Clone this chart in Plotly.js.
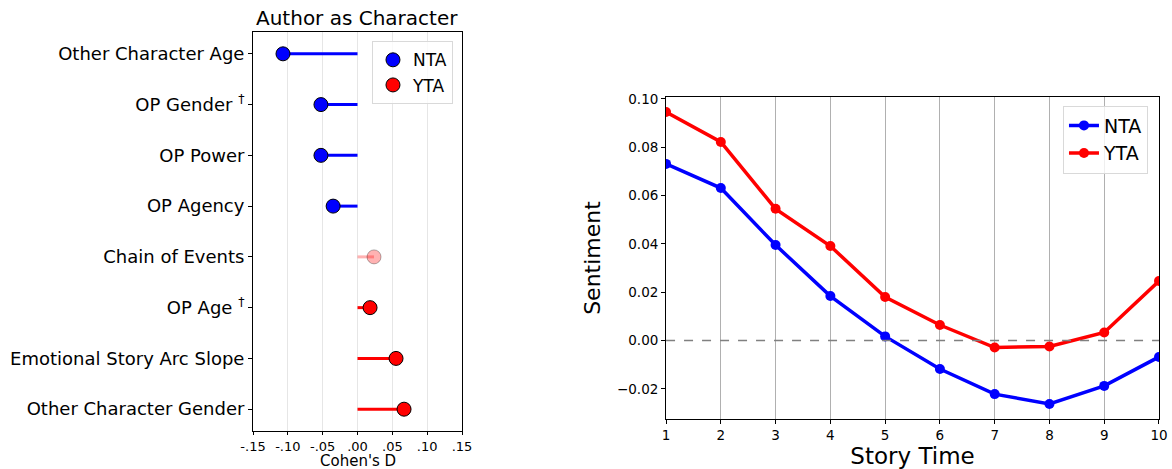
<!DOCTYPE html>
<html>
<head>
<meta charset="utf-8">
<script src="https://cdn.plot.ly/plotly-3.0.1.min.js"></script>
<style>html,body{margin:0;padding:0;background:#fff;}#chart{width:1172px;height:469px;}</style>
</head>
<body>
<div id="chart"></div>
<script>
// ---- Left panel data: Cohen's D, Author as Character ----
const features = ["Other Character Age", "OP Gender <sup>†</sup>", "OP Power", "OP Agency",
  "Chain of Events", "OP Age <sup>†</sup>", "Emotional Story Arc Slope", "Other Character Gender"];
const cohensD = [-0.107, -0.0525, -0.0525, -0.035, 0.0237, 0.018, 0.0553, 0.0668];
const significant = [true, true, true, true, false, true, true, true];
const dTickVals = [-0.15, -0.10, -0.05, 0.0, 0.05, 0.10, 0.15];
const dTickText = ["-.15", "-.10", "-.05", ".00", ".05", ".10", ".15"];

// ---- Right panel data: sentiment over story time ----
const storyTime = [1, 2, 3, 4, 5, 6, 7, 8, 9, 10];
const ntaSentiment = [0.0731, 0.0631, 0.0395, 0.0184, 0.0017, -0.0118, -0.0222, -0.0263, -0.0188, -0.0068];
const ytaSentiment = [0.0946, 0.0822, 0.0545, 0.0391, 0.0180, 0.0064, -0.0029, -0.0025, 0.0033, 0.0246];
const sentTickVals = [-0.02, 0.0, 0.02, 0.04, 0.06, 0.08, 0.10];

const BLUE = "#0000ff", RED = "#ff0000";
const PALE_BLUE = "rgba(0,0,255,0.3)", PALE_RED = "rgba(255,0,0,0.3)";

function colorFor(i) {
  const neg = cohensD[i] < 0;
  if (significant[i]) return neg ? BLUE : RED;
  return neg ? PALE_BLUE : PALE_RED;
}

const traces = [];
features.forEach((f, i) => {
  traces.push({
    x: [0, cohensD[i]], y: [f, f], xaxis: "x", yaxis: "y",
    mode: "lines", line: {color: colorFor(i), width: 3},
    showlegend: false, hoverinfo: "skip"
  });
});
const ntaIdx = features.map((f, i) => i).filter(i => cohensD[i] < 0);
const ytaIdx = features.map((f, i) => i).filter(i => cohensD[i] >= 0);
function markerTrace(idx, name) {
  const ordered = idx.slice().sort((a, b) => (significant[b] ? 1 : 0) - (significant[a] ? 1 : 0));
  return {
    x: ordered.map(i => cohensD[i]), y: ordered.map(i => features[i]),
    xaxis: "x", yaxis: "y", mode: "markers", name: name, legend: "legend",
    marker: {
      size: 14, color: ordered.map(i => colorFor(i)),
      line: {color: ordered.map(i => significant[i] ? "#000" : "rgba(0,0,0,0.3)"), width: 1}
    }
  };
}
traces.push(markerTrace(ntaIdx, "NTA"));
traces.push(markerTrace(ytaIdx, "YTA"));

traces.push({
  x: storyTime, y: ntaSentiment, xaxis: "x2", yaxis: "y2", name: "NTA", legend: "legend2",
  mode: "lines+markers", line: {color: BLUE, width: 3.5}, marker: {color: BLUE, size: 10}
});
traces.push({
  x: storyTime, y: ytaSentiment, xaxis: "x2", yaxis: "y2", name: "YTA", legend: "legend2",
  mode: "lines+markers", line: {color: RED, width: 3.5}, marker: {color: RED, size: 10}
});

const font = "DejaVu Sans";
const layout = {
  width: 1172, height: 469,
  margin: {l: 0, r: 0, t: 0, b: 0},
  paper_bgcolor: "#fff", plot_bgcolor: "#fff",
  font: {family: font, color: "#000"},
  showlegend: true,
  xaxis: {
    domain: [0.2159, 0.3942], range: [-0.15, 0.15],
    tickvals: dTickVals, ticktext: dTickText, tickfont: {size: 13},
    showgrid: true, gridcolor: "#e6e6e6", gridwidth: 1, zeroline: false,
    showline: true, linecolor: "#000", linewidth: 1, mirror: true,
    ticks: "outside", ticklen: 3, tickcolor: "#000"
  },
  yaxis: {
    domain: [0.081, 0.9318], type: "category", categoryarray: features,
    range: [7.43, -0.43], tickfont: {size: 18},
    showgrid: false, zeroline: false,
    showline: true, linecolor: "#000", linewidth: 1, mirror: true,
    ticks: "outside", ticklen: 4, tickcolor: "#000"
  },
  xaxis2: {
    domain: [0.5683, 0.9889], range: [1, 10], anchor: "y2",
    tickvals: storyTime, tickfont: {size: 13.5},
    showgrid: true, gridcolor: "#b0b0b0", gridwidth: 1, zeroline: false,
    showline: true, linecolor: "#000", linewidth: 1, mirror: true,
    ticks: "outside", ticklen: 4, tickcolor: "#000",
    title: {text: "Story Time", font: {size: 23}, standoff: 4}
  },
  yaxis2: {
    domain: [0.1066, 0.7932], range: [-0.0325, 0.1008], anchor: "x2",
    tickvals: sentTickVals, tickformat: ".2f", tickfont: {size: 13.5},
    showgrid: false, zeroline: false,
    showline: true, linecolor: "#000", linewidth: 1, mirror: true,
    ticks: "outside", ticklen: 4, tickcolor: "#000",
    title: {text: "Sentiment", font: {size: 22}, standoff: 10}
  },
  legend: {
    x: 0.3865, y: 0.912, xanchor: "right", yanchor: "top",
    bgcolor: "rgba(255,255,255,0.8)", bordercolor: "#d9d9d9", borderwidth: 1,
    font: {size: 17}, itemsizing: "trace", tracegroupgap: 0
  },
  legend2: {
    x: 0.9795, y: 0.775, xanchor: "right", yanchor: "top",
    bgcolor: "rgba(255,255,255,0.8)", bordercolor: "#d9d9d9", borderwidth: 1,
    font: {size: 19}
  },
  shapes: [{
    type: "line", xref: "x2 domain", yref: "y2", x0: 0, x1: 1, y0: 0, y1: 0,
    line: {color: "#808080", width: 1.5, dash: "dash"}
  }],
  annotations: [{
    text: "Author as Character", xref: "paper", yref: "paper",
    x: 0.305, y: 0.932, xanchor: "center", yanchor: "bottom",
    showarrow: false, font: {size: 20}
  }, {
    text: "Cohen's D", xref: "x domain", yref: "paper",
    x: 0.5, y: 0.0, xanchor: "center", yanchor: "bottom", yshift: -2,
    showarrow: false, font: {size: 15}, borderpad: 0
  }]
};

Plotly.newPlot("chart", traces, layout, {displayModeBar: false, staticPlot: true});
</script>
</body>
</html>
